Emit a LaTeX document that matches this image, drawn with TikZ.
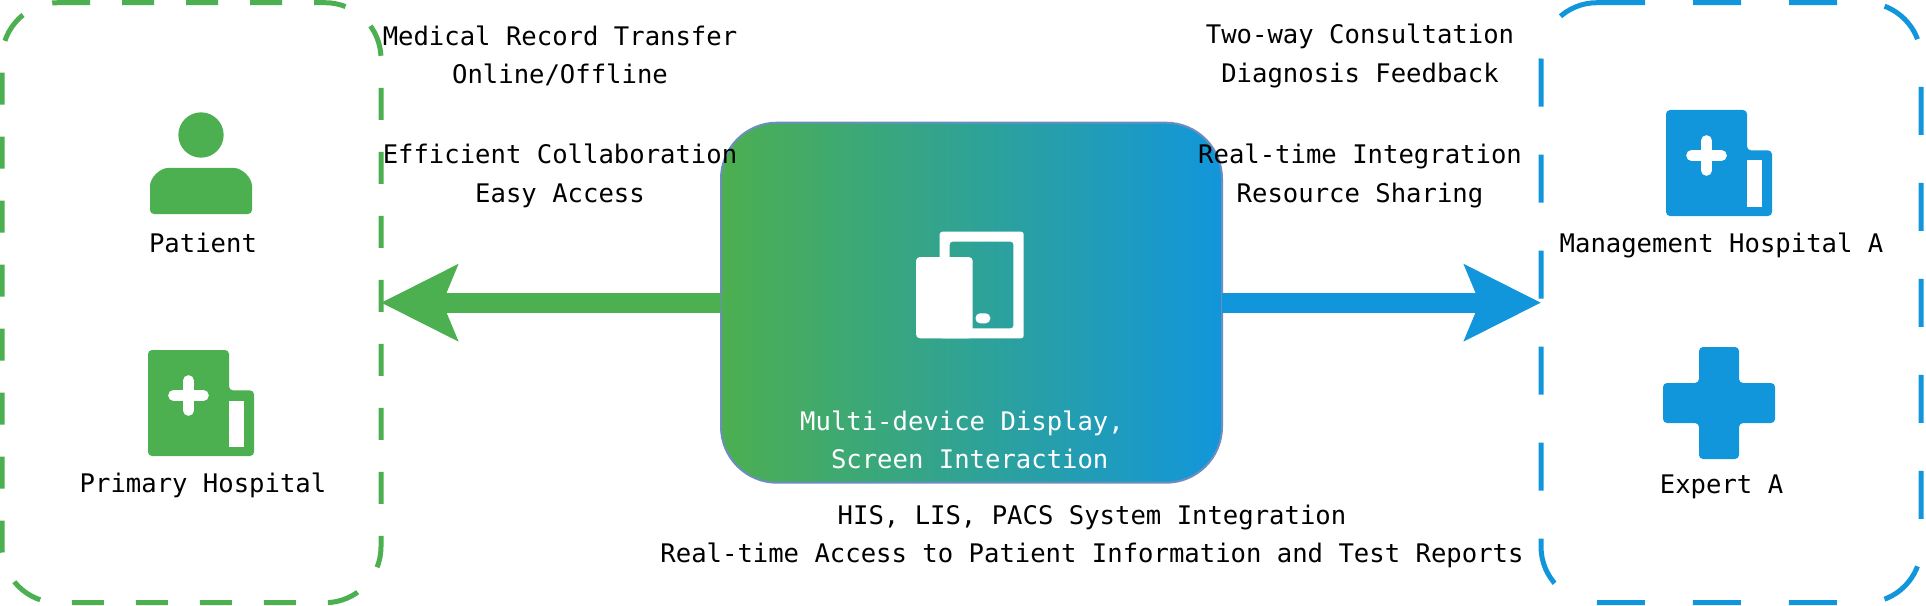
\documentclass[tikz,border=0pt]{standalone}
\usepackage{fontspec}
\usepackage{xcolor}
\usepackage{tikz}
\usetikzlibrary{arrows.meta,positioning}
\setmonofont{DejaVu Sans Mono}
\definecolor{clinic}{RGB}{76,175,80}
\definecolor{expert}{RGB}{18,150,219}
\definecolor{hubline}{RGB}{108,142,191}
\newcommand{\hospitalicon}[2]{%
  \begin{scope}[shift={(#2)}]
    \fill[#1, rounded corners=3pt] (0,0) -- (81,0) -- (81,40.4) -- (106,40.4) -- (106,106) -- (0,106) -- cycle;
    \fill[white] (81,50.5) rectangle (96.3,96.5);
    \draw[white, line width=8pt, line cap=round] (25.5,45.4) -- (55.5,45.4) (40.5,30.5) -- (40.5,60.5);
  \end{scope}}

\begin{document}
\begin{tikzpicture}[
  x=0.75pt, y=-0.75pt,
  every node/.style={inner sep=0pt, outer sep=0pt, align=center,
    font=\ttfamily\fontsize{19.2}{29}\selectfont},
  frame/.style={minimum height=450pt},
  hubbox/.style={minimum width=375.75pt, minimum height=270pt, rounded corners=42pt,
    draw=hubline, line width=1.5pt, left color=clinic, right color=expert},
  rim/.style={rounded corners=42pt, line width=3.75pt},
  link/.style={line width=15pt}
]
\useasboundingbox (0,0) rectangle (1926,606);

\node[hubbox] (hub) at (971.5,302.7) {};
\node[frame, minimum width=284.25pt, left=255pt of hub] (left) {};
\node[frame, minimum width=285pt, right=239.25pt of hub] (right) {};

\draw[rim, clinic, dash pattern=on 24pt off 24pt] ([xshift=42pt]left.north west) -- (left.north east) -- (left.south east) -- (left.south west) -- (left.north west) -- ([xshift=42pt]left.north west);
\draw[rim, expert, dash pattern=on 36pt off 36pt] ([xshift=42pt]right.north west) -- (right.north east) -- (right.south east) -- (right.south west) -- (right.north west) -- ([xshift=42pt]right.north west);

\draw[link, clinic, -{Stealth[length=57pt, width=56pt, inset=11pt]}] (hub.west) -- (left.east);
\draw[link, expert, -{Stealth[length=57pt, width=56pt, inset=11pt]}] (hub.east) -- (right.west);

% patient
\fill[clinic] (201,135) circle (17pt);
\fill[clinic, rounded corners=3pt] (150,214) -- (150,190) to[out=90, in=180] (172,168) -- (230,168) to[out=0, in=90] (252,190) -- (252,214) -- cycle;
\hospitalicon{clinic}{148,350}
\hospitalicon{expert}{1666,110}
% expert
\fill[expert, rounded corners=3pt] (1699,347) -- (1739,347) -- (1739,383) -- (1775,383) -- (1775,423) -- (1739,423) -- (1739,459) -- (1699,459) -- (1699,423) -- (1663,423) -- (1663,383) -- (1699,383) -- cycle;
% devices
\fill[white, even odd rule, rounded corners=2pt] (939.7,231.7) rectangle (1023.7,338.3) (949.7,241.7) rectangle (1013.4,328.3);
\fill[white, rounded corners=3pt] (916,257) rectangle (972.7,338.3);
\fill[white, rounded corners=3.5pt] (975.5,313.3) rectangle (990.3,323.3);

\node at (560,56) (transfer) {Medical Record Transfer\\Online/Offline};
\node at (560,176) (collab) {Efficient Collaboration\\Easy Access};
\node at (1360,56) (consult) {Two-way Consultation\\Diagnosis Feedback};
\node at (1360,176) (share) {Real-time Integration\\Resource Sharing};
\node at (1092,536.5) (systems) {HIS, LIS, PACS System Integration\\Real-time Access to Patient Information and Test Reports};
\node[text=white] at (962,440) (display) {Multi-device Display,\\\ Screen Interaction};
\node at (203,243) (patient) {Patient};
\node at (203,485.5) (primary) {Primary Hospital};
\node at (1721.5,245.5) (manage) {Management Hospital A};
\node at (1721.5,486.5) (experta) {Expert A};
\end{tikzpicture}
\end{document}
